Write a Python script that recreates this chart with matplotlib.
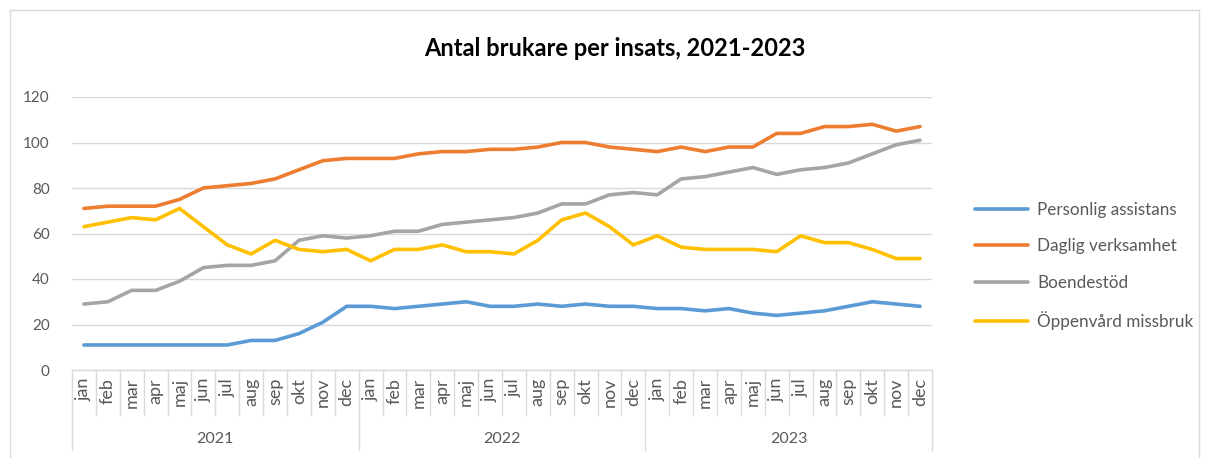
import matplotlib
matplotlib.use("Agg")
import matplotlib.pyplot as plt
from matplotlib.lines import Line2D

plt.rcParams["font.family"] = ["Lato", "DejaVu Sans"]

# ── Data ───────────────────────────────────────────────────────────────────
months = ["jan", "feb", "mar", "apr", "maj", "jun",
          "jul", "aug", "sep", "okt", "nov", "dec"]
years = ["2021", "2022", "2023"]

personlig_assistans = [11, 11, 11, 11, 11, 11, 11, 13, 13, 16, 21, 28,
                       28, 27, 28, 29, 30, 28, 28, 29, 28, 29, 28, 28,
                       27, 27, 26, 27, 25, 24, 25, 26, 28, 30, 29, 28]
daglig_verksamhet = [71, 72, 72, 72, 75, 80, 81, 82, 84, 88, 92, 93,
                     93, 93, 95, 96, 96, 97, 97, 98, 100, 100, 98, 97,
                     96, 98, 96, 98, 98, 104, 104, 107, 107, 108, 105, 107]
boendestod = [29, 30, 35, 35, 39, 45, 46, 46, 48, 57, 59, 58,
              59, 61, 61, 64, 65, 66, 67, 69, 73, 73, 77, 78,
              77, 84, 85, 87, 89, 86, 88, 89, 91, 95, 99, 101]
oppenvard = [63, 65, 67, 66, 71, 63, 55, 51, 57, 53, 52, 53,
             48, 53, 53, 55, 52, 52, 51, 57, 66, 69, 63, 55,
             59, 54, 53, 53, 53, 52, 59, 56, 56, 53, 49, 49]

series_names = ["Personlig assistans", "Daglig verksamhet",
                "Boendestöd", "Öppenvård missbruk"]
series_values = [personlig_assistans, daglig_verksamhet, boendestod, oppenvard]
colors = ["#5B9BD5", "#ED7D31", "#A5A5A5", "#FFC000"]

TEXT = "#595959"
GRID = "#D9D9D9"

W, H = 1208, 458
fig = plt.figure(figsize=(W / 100, H / 100), dpi=100)

# outer chart frame
frame = dict(color="#D9D9D9", lw=1, transform=fig.transFigure)
fig.add_artist(Line2D([10 / W, 10 / W], [0, 1 - 10 / H], **frame))
fig.add_artist(Line2D([10 / W, 1199 / W], [1 - 10 / H, 1 - 10 / H], **frame))
fig.add_artist(Line2D([1199 / W, 1199 / W], [0, 1 - 10 / H], **frame))

ax_l, ax_r, ax_b, ax_t = 72, 932, 370, 97
ax = fig.add_axes([ax_l / W, 1 - ax_b / H, (ax_r - ax_l) / W, (ax_b - ax_t) / H])

n = len(personlig_assistans)
x = list(range(n))
for name, vals, c in zip(series_names, series_values, colors):
    ax.plot(x, vals, color=c, lw=2.6, label=name, solid_capstyle="round")

ax.set_xlim(-0.5, n - 0.5)
ax.set_ylim(0, 120)
ax.set_yticks(range(0, 121, 20))
ax.tick_params(axis="y", length=0, labelsize=11, labelcolor=TEXT, pad=16)
ax.set_xticks([])
ax.grid(axis="y", color=GRID, lw=1)
ax.set_axisbelow(True)
for s in ["top", "right", "left"]:
    ax.spines[s].set_visible(False)
ax.spines["bottom"].set_color(GRID)
ax.spines["bottom"].set_linewidth(1)

# category axis: month labels, separators and year groups
px = lambda p: -(p - ax_b) / (ax_b - ax_t)  # pixel row -> axes y
trans = ax.get_xaxis_transform()
for i in range(n):
    ax.text(i, px(378), months[i % 12], rotation=90, ha="center", va="top",
            fontsize=13, color=TEXT, transform=trans, clip_on=False)
for b in range(n + 1):
    bottom = 450 if b % 12 == 0 else 415
    ax.add_line(Line2D([b - 0.5, b - 0.5], [0, px(bottom)], color=GRID, lw=1,
                       transform=trans, clip_on=False))
for k, yr in enumerate(years):
    ax.text(k * 12 + 5.5, px(439), yr, ha="center", va="center",
            fontsize=11.5, color=TEXT, transform=trans, clip_on=False)

fig.text(615 / W, 1 - 48 / H, "Antal brukare per insats, 2021-2023",
         ha="center", va="center", fontsize=17, fontweight="bold", color="black")

fig.legend(loc="center left", bbox_to_anchor=(975 / W, 1 - 266 / H),
           frameon=False, fontsize=12.3, labelcolor=TEXT, handlelength=3.1,
           labelspacing=1.18, handletextpad=0.53, borderpad=0, borderaxespad=0)

fig.savefig("out.png", dpi=100)
